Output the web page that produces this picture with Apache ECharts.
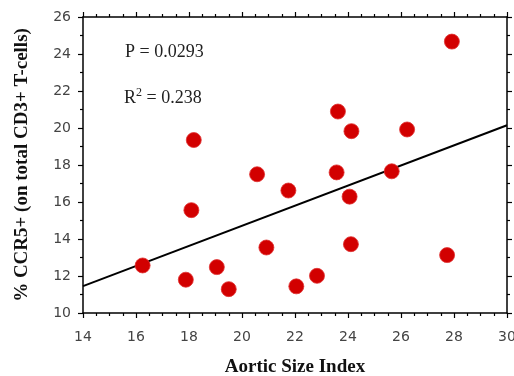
<!DOCTYPE html>
<html>
<head>
<meta charset="utf-8">
<script src="https://cdn.jsdelivr.net/npm/echarts@6/dist/echarts.min.js"></script>
<style>
  html, body { margin: 0; padding: 0; background: #fff; }
  #chart { width: 514px; height: 376px; }
</style>
</head>
<body>
<div id="chart"></div>
<script>
// Aortic size index vs %CCR5+
const asi = [16.25, 17.88, 18.18, 18.09, 19.05, 19.5, 20.57, 20.92, 21.75, 22.05,
             22.83, 23.62, 23.57, 24.13, 24.06, 24.11, 25.65, 26.23, 27.74, 27.92];
const ccr5 = [12.57, 11.8, 19.35, 15.56, 12.48, 11.29, 17.5, 13.54, 16.62, 11.44,
              12.01, 20.89, 17.6, 19.83, 16.29, 13.72, 17.66, 19.92, 13.13, 24.67];
// regression line end points
const fitX = [14, 30];
const fitY = [11.45, 20.15];
const pText = 'P = 0.0293';
const r2Text = '0.238';

const chart = echarts.init(document.getElementById('chart'));

const axisLine = { lineStyle: { color: '#000', width: 1.5 } };
const tickStyle = { lineStyle: { color: '#000', width: 1.2 } };
const tickFont = { color: '#444', fontSize: 14, fontFamily: 'DejaVu Sans' };
const nameFont = { fontFamily: 'Liberation Serif', fontWeight: 'bold', fontSize: 19, color: '#111' };

chart.setOption({
  animation: false,
  grid: { left: 83, right: 7, top: 17, bottom: 63, outerBoundsMode: 'none', containLabel: false },
  xAxis: [
    {
      type: 'value', min: 14, max: 30, interval: 2,
      axisLine: { show: true, onZero: false, ...axisLine },
      axisTick: { show: true, length: 5, ...tickStyle },
      minorTick: { show: true, splitNumber: 4, length: 3, ...tickStyle },
      splitLine: { show: false },
      axisLabel: { ...tickFont, margin: 17 },
      name: 'Aortic Size Index',
      nameLocation: 'middle',
      nameGap: 45,
      nameTextStyle: nameFont
    },
    {
      type: 'value', position: 'top', min: 14, max: 30, interval: 2,
      axisLine: { show: true, onZero: false, ...axisLine },
      axisTick: { show: true, length: 5, ...tickStyle },
      minorTick: { show: true, splitNumber: 4, length: 3, ...tickStyle },
      splitLine: { show: false },
      axisLabel: { show: false }
    }
  ],
  yAxis: [
    {
      type: 'value', min: 10, max: 26, interval: 2,
      axisLine: { show: true, onZero: false, ...axisLine },
      axisTick: { show: true, length: 5, ...tickStyle },
      minorTick: { show: true, splitNumber: 2, length: 3, ...tickStyle },
      splitLine: { show: false },
      axisLabel: { ...tickFont, margin: 12 },
      name: '% CCR5+ (on total CD3+ T-cells)',
      nameLocation: 'middle',
      nameGap: 51,
      nameTextStyle: nameFont
    },
    {
      type: 'value', position: 'right', min: 10, max: 26, interval: 2,
      axisLine: { show: true, onZero: false, ...axisLine },
      axisTick: { show: true, length: 5, ...tickStyle },
      minorTick: { show: true, splitNumber: 2, length: 3, ...tickStyle },
      splitLine: { show: false },
      axisLabel: { show: false }
    }
  ],
  graphic: [
    {
      type: 'text', left: 125, top: 43,
      style: { text: pText, font: '18px "Liberation Serif"', fill: '#222' }
    },
    {
      type: 'text', left: 124, top: 87,
      style: {
        text: '{b|R}{s|2}{b| = ' + r2Text + '}',
        rich: {
          b: { font: '18px "Liberation Serif"', fill: '#222', verticalAlign: 'bottom' },
          s: { font: '12px "Liberation Serif"', fill: '#222', verticalAlign: 'top', padding: [0, 0, 8, 0] }
        }
      }
    }
  ],
  series: [
    {
      type: 'line',
      data: fitX.map((x, i) => [x, fitY[i]]),
      symbol: 'none',
      lineStyle: { color: '#000', width: 2 },
      z: 2
    },
    {
      type: 'scatter',
      data: asi.map((x, i) => [x, ccr5[i]]),
      symbolSize: 15,
      itemStyle: { color: '#d20000', opacity: 1, borderColor: '#e03030', borderWidth: 0.8 },
      z: 3
    }
  ]
});
</script>
</body>
</html>
